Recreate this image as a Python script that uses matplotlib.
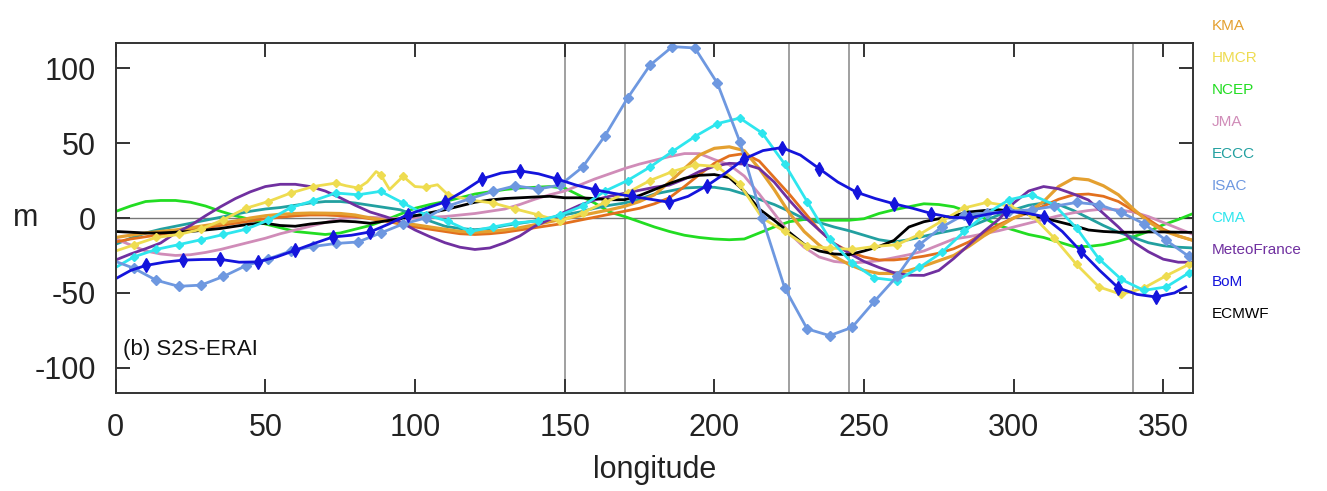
import numpy as np
import matplotlib
matplotlib.use("Agg")
import matplotlib.pyplot as plt

plt.rcParams['font.family'] = ['Liberation Sans', 'DejaVu Sans']
plt.rcParams['axes.unicode_minus'] = False

# ---- data (geopotential height anomaly, m) ----
lon5 = np.arange(0, 361, 5)

kma = [-13, -11.5, -10, -9, -8, -6.5, -5, -3.5, -2, 0,
       1.5, 2.5, 3, 3.3, 3.2, 3, 2, 0, -1.5, -3,
       -4.5, -6, -7.5, -9, -9.5, -9, -8, -6.5, -4.5, -2.5,
       -0.5, 1.5, 3.5, 5.5, 7.8, 11, 15.5, 24, 33, 42,
       46.5, 47.5, 45, 33, 19, 3.5, -9, -18, -25.5, -31,
       -35, -37, -37, -35, -32, -28.5, -25, -19, -12, -6,
       0, 4, 11, 21, 26.5, 25.5, 21.5, 15.5, 6, -2.5,
       -8.5, -12, -15]

other_orange = [-16, -14, -12.5, -11, -9.5, -8, -6.5, -5, -3.5, -2,
                -0.5, 0.5, 1.5, 2, 2, 1.5, 1, -0.5, -2, -4,
                -6, -7.5, -9, -10.5, -11, -10.5, -9.5, -8, -6.5, -5,
                -3.5, -1.5, 0.5, 2.5, 4.5, 6.5, 9.5, 13.5, 21, 29,
                36.5, 41.5, 43, 38, 27, 16, 4, -8, -17, -22.5,
                -26, -28, -28, -27, -25.5, -23.5, -20.5, -16, -10, -4.5,
                0, 3.5, 8, 12.5, 15.5, 16, 14.5, 11, 5, -1,
                -7.5, -12, -15]

jma = [-14, -18, -22, -24, -25, -24.5, -23, -21, -18.5, -16,
       -13.5, -10.5, -8, -5.5, -3, -0.5, 0.5, 0.5, 0, -0.5,
       0, 0.5, 1, 2, 3, 4.5, 6, 9, 12.5, 15.5,
       18, 22, 26, 29.5, 33, 36, 38.5, 41, 43, 43,
       39, 35.5, 28, 16, 3, -10, -19.5, -26, -29, -30,
       -29.5, -28.5, -26.5, -24.5, -22, -18, -14, -12.5, -10.5, -8.5,
       -6, -3.5, -1, 1.5, 3.5, 5, 6, 5.5, 4, 1,
       -3, -7, -11]

eccc = [-17.5, -13.5, -10, -7.5, -5.5, -3.5, -1.5, 0.5, 2.5, 4.5,
        6, 7, 8.5, 10, 11, 11, 10, 8.5, 7, 5.5,
        2, -2, -5.5, -7, -7.8, -7, -5, -3.5, -2, 0,
        2.2, 4, 6.5, 8.5, 10, 12.5, 16, 18, 20, 20.5,
        20.5, 19, 16, 12.5, 9, 4.5, -0.5, -3, -6, -8.5,
        -11.5, -14.5, -16, -14.5, -12.2, -10, -8, -6, -2, 2,
        5.5, 8.5, 10, 9, 5, 0, -5, -9.5, -13, -16.5,
        -18.5, -19.5, -20]

ecmwf = [-9, -9.5, -10, -10, -9.5, -9, -8, -7, -5.5, -4,
         -3.5, -5, -5.5, -4, -3, -2, -2.5, -3.5, -2, -0.5,
         1.5, 3.5, 5.5, 8, 10.5, 12, 13, 13.5, 14, 14.5,
         13.5, 13.5, 13, 12.2, 12.2, 15, 19, 23, 26.5, 28.5,
         29, 27, 18, 6, -1.5, -9.5, -17.5, -22, -24, -24.5,
         -22, -19, -15, -6, -2.5, -0.5, 1.5, 4, 5, 5.5,
         4.5, 2.5, 0, -2.5, -5, -8, -9, -9.5, -9.5, -9.3,
         -9.3, -9.5, -9.6]

ncep = [4.4, 8, 11, 11.7, 11.7, 10.5, 8, 4.5, 1.5, -1,
        -4, -6.5, -9, -10, -11, -10, -7.5, -5, -1.5, 2.5,
        6.5, 9, 11, 13.5, 16, 17.5, 19, 20, 20.5, 21,
        20, 15, 10, 4, 1, -2.5, -6, -9, -11.5, -13,
        -14, -14.5, -14, -10, -6, -2.5, -1, -1.5, -1.5, -1.5,
        -0.5, 3, 5.5, 7.5, 9.5, 9, 7.5, 4, 0, -5,
        -8, -11, -13, -16, -19, -19, -17.8, -15.5, -12.5, -9,
        -4.5, -1, 3]

meteofrance = [-28, -24, -20.5, -16.7, -10, -5, 1.5, 7.5, 13, 17.5,
               21, 22.5, 22.5, 21, 18, 13.5, 8.5, 4, 1, -2.5,
               -8, -12.5, -16.5, -19.5, -21, -20, -16.5, -12, -5.5, -1,
               4, 8.5, 12, 14.5, 16.5, 18.5, 20.5, 22, 26, 31,
               34.5, 36.5, 36, 33, 24, 12, 1, -8, -17, -23.5,
               -29, -33, -36.5, -38.2, -38.3, -35, -27, -18, -9, -1,
               10, 18, 21, 19.5, 16, 12, 3, -6, -16, -22.5,
               -27.5, -29.5, -29.5]

# series with diamond markers every 7.5 deg (from 6E)
lon_m = np.concatenate([[0], np.arange(6, 359, 7.5), [360]])

isac = [-29, -33.5, -41.5, -45.6, -44.8, -39, -31.8, -27.3, -22, -19,
        -17, -16, -10, -4, 0, 8, 13, 17.7, 21.5, 19.3,
        22, 34, 55, 80, 102, 114.4, 113.5, 90, 51, 0,
        -46.7, -74, -78.5, -73, -55.6, -39, -17.8, -6, 2.2, 3.3,
        4.4, 5.5, 7.8, 10.4, 8.9, 3.7, -3.8, -15, -25.6, -27]

cma = [-33, -26, -21, -17.8, -14.5, -11, -7.5, -1.5, 7, 11.5,
       16.7, 15.5, 17.8, 10, 2.2, -2.2, -9, -6, -3.3, -2,
       2, 8, 18, 25, 34, 44.4, 54.4, 63, 66.7, 56.7,
       36, 11, -14, -30, -40, -41.8, -33, -23, -9, 3,
       12.2, 15.5, 8.9, -6.7, -27.3, -41, -48.3, -46, -36.7, -35]

hmcr_lon = [0, 6, 13.5, 21, 28.5, 36, 43.5, 51, 58.5, 66, 73.5, 77, 81, 84, 87,
            88.5, 91.5, 96, 100, 103.5, 107.5, 111, 118.5, 126, 133.5, 141,
            148.5, 156, 163.5, 171, 178.5, 186, 193.5, 201, 208.5, 216, 223.5,
            231, 238.5, 246, 253.5, 261, 268.5, 276, 283.5, 291, 298.5, 306,
            313.5, 321, 328.5, 336, 343.5, 351, 358.5, 360]
hmcr = [-22, -18, -13, -11, -7.5, -1, 6.5, 11, 16.7, 21, 23.3, 21.5, 20, 24, 31,
        29, 19, 27.8, 21, 20.5, 22.2, 15.5, 12, 10, 6, 2.2,
        -2.2, 3.5, 10.5, 17, 25, 31, 35.5, 34.4, 22.5, 0, -9,
        -19, -20, -21, -19, -17.8, -11, -2, 6.7, 10.4, 8, 2.2,
        -13.3, -31, -46, -51, -46.7, -38.5, -31, -30]

# BoM: big markers every 12.5 deg (from 10E)
bom_lon = np.concatenate([[0, 5], np.arange(10, 354, 6.25), [357.5]])
bom = [-40.5, -35, -31.7, -29.5, -28.1, -27.7, -27.6, -29.5, -29.3, -26,
       -21.5, -17, -12.7, -11.5, -9.3, -4, 2.2, 6.5, 10.7, 18,
       26.2, 30, 31.5, 29.5, 26, 22, 18.9, 16.5, 14.4, 12.5,
       10.5, 14.5, 21.5, 30, 39.5, 45, 47, 42, 33, 24,
       17.2, 13, 9.5, 6.5, 3, 0.5, 0, 2.5, 4.4, 3.5,
       1, -9, -22.3, -35, -46.7, -51, -52.7, -50, -46]

vlines = [150, 170, 225, 245, 340]

legend_names = ['KMA', 'HMCR', 'NCEP', 'JMA', 'ECCC', 'ISAC', 'CMA',
                'MeteoFrance', 'BoM', 'ECMWF']
c = {'KMA': '#E4A030', 'orange': '#E2701E', 'HMCR': '#EEDC50', 'NCEP': '#22DD22',
     'JMA': '#D08CB8', 'ECCC': '#22A0A0', 'ISAC': '#6E98E0', 'CMA': '#2EE6EE',
     'MeteoFrance': '#7030A0', 'BoM': '#1414DC', 'ECMWF': '#000000'}

# ---- plot ----
fig = plt.figure(figsize=(13.27, 4.91), dpi=100)
ax = fig.add_axes([0.0872, 0.199, 0.812, 0.714])

for v in vlines:
    ax.axvline(v, color='#999999', lw=1.3, zorder=1)
ax.axhline(0, color='#777777', lw=1.0, zorder=1)

lw = 2.0
ax.plot(lon5, ncep, color=c['NCEP'], lw=lw)
ax.plot(lon5, eccc, color=c['ECCC'], lw=lw)
ax.plot(lon5, jma, color=c['JMA'], lw=lw)
ax.plot(lon5, other_orange, color=c['orange'], lw=lw)
ax.plot(lon5, kma, color=c['KMA'], lw=lw + 0.3)
ax.plot(lon5, meteofrance, color=c['MeteoFrance'], lw=lw)
ax.plot(lon5, ecmwf, color=c['ECMWF'], lw=lw)

hl = np.array(hmcr_lon)
r = ((hl - 6) / 7.5) % 1
hmark = list(np.where(np.minimum(r, 1 - r) < 1e-6)[0])
ax.plot(hmcr_lon, hmcr, color=c['HMCR'], lw=lw, marker='D', ms=4.5, markevery=hmark)
ax.plot(lon_m, cma, color=c['CMA'], lw=lw, marker='D', ms=4.5, markevery=slice(1, -1))
ax.plot(lon_m, isac, color=c['ISAC'], lw=lw, marker='D', ms=5, markevery=slice(1, -1))
ax.plot(bom_lon, bom, color=c['BoM'], lw=lw, marker='d', ms=7, markevery=slice(2, 57, 2))

ax.set_xlim(0, 360)
ax.set_ylim(-117, 117)
ax.set_xticks([0, 50, 100, 150, 200, 250, 300, 350])
ax.set_yticks([-100, -50, 0, 50, 100])
ax.tick_params(direction='in', top=True, right=True, length=10, width=1.4,
               labelsize=22, pad=14, colors='#333333', labelcolor='#222222')
for s in ax.spines.values():
    s.set_linewidth(1.4)
    s.set_color('#333333')

ax.set_xlabel('longitude', fontsize=22, color='#222222', va='center')
ax.xaxis.set_label_coords(0.5, -0.22)
ax.set_ylabel('m', fontsize=22, rotation=0, va='center', ha='center', color='#222222')
ax.yaxis.set_label_coords(-0.084, 0.5)

ax.text(0.007, 0.125, '(b) S2S-ERAI', transform=ax.transAxes, fontsize=16,
        color='#111111', va='center')

for i, name in enumerate(legend_names):
    fig.text(0.913, 0.947 - i * 0.0652, name, color=c[name], fontsize=11, va='center')

plt.savefig('out.png', dpi=100)
